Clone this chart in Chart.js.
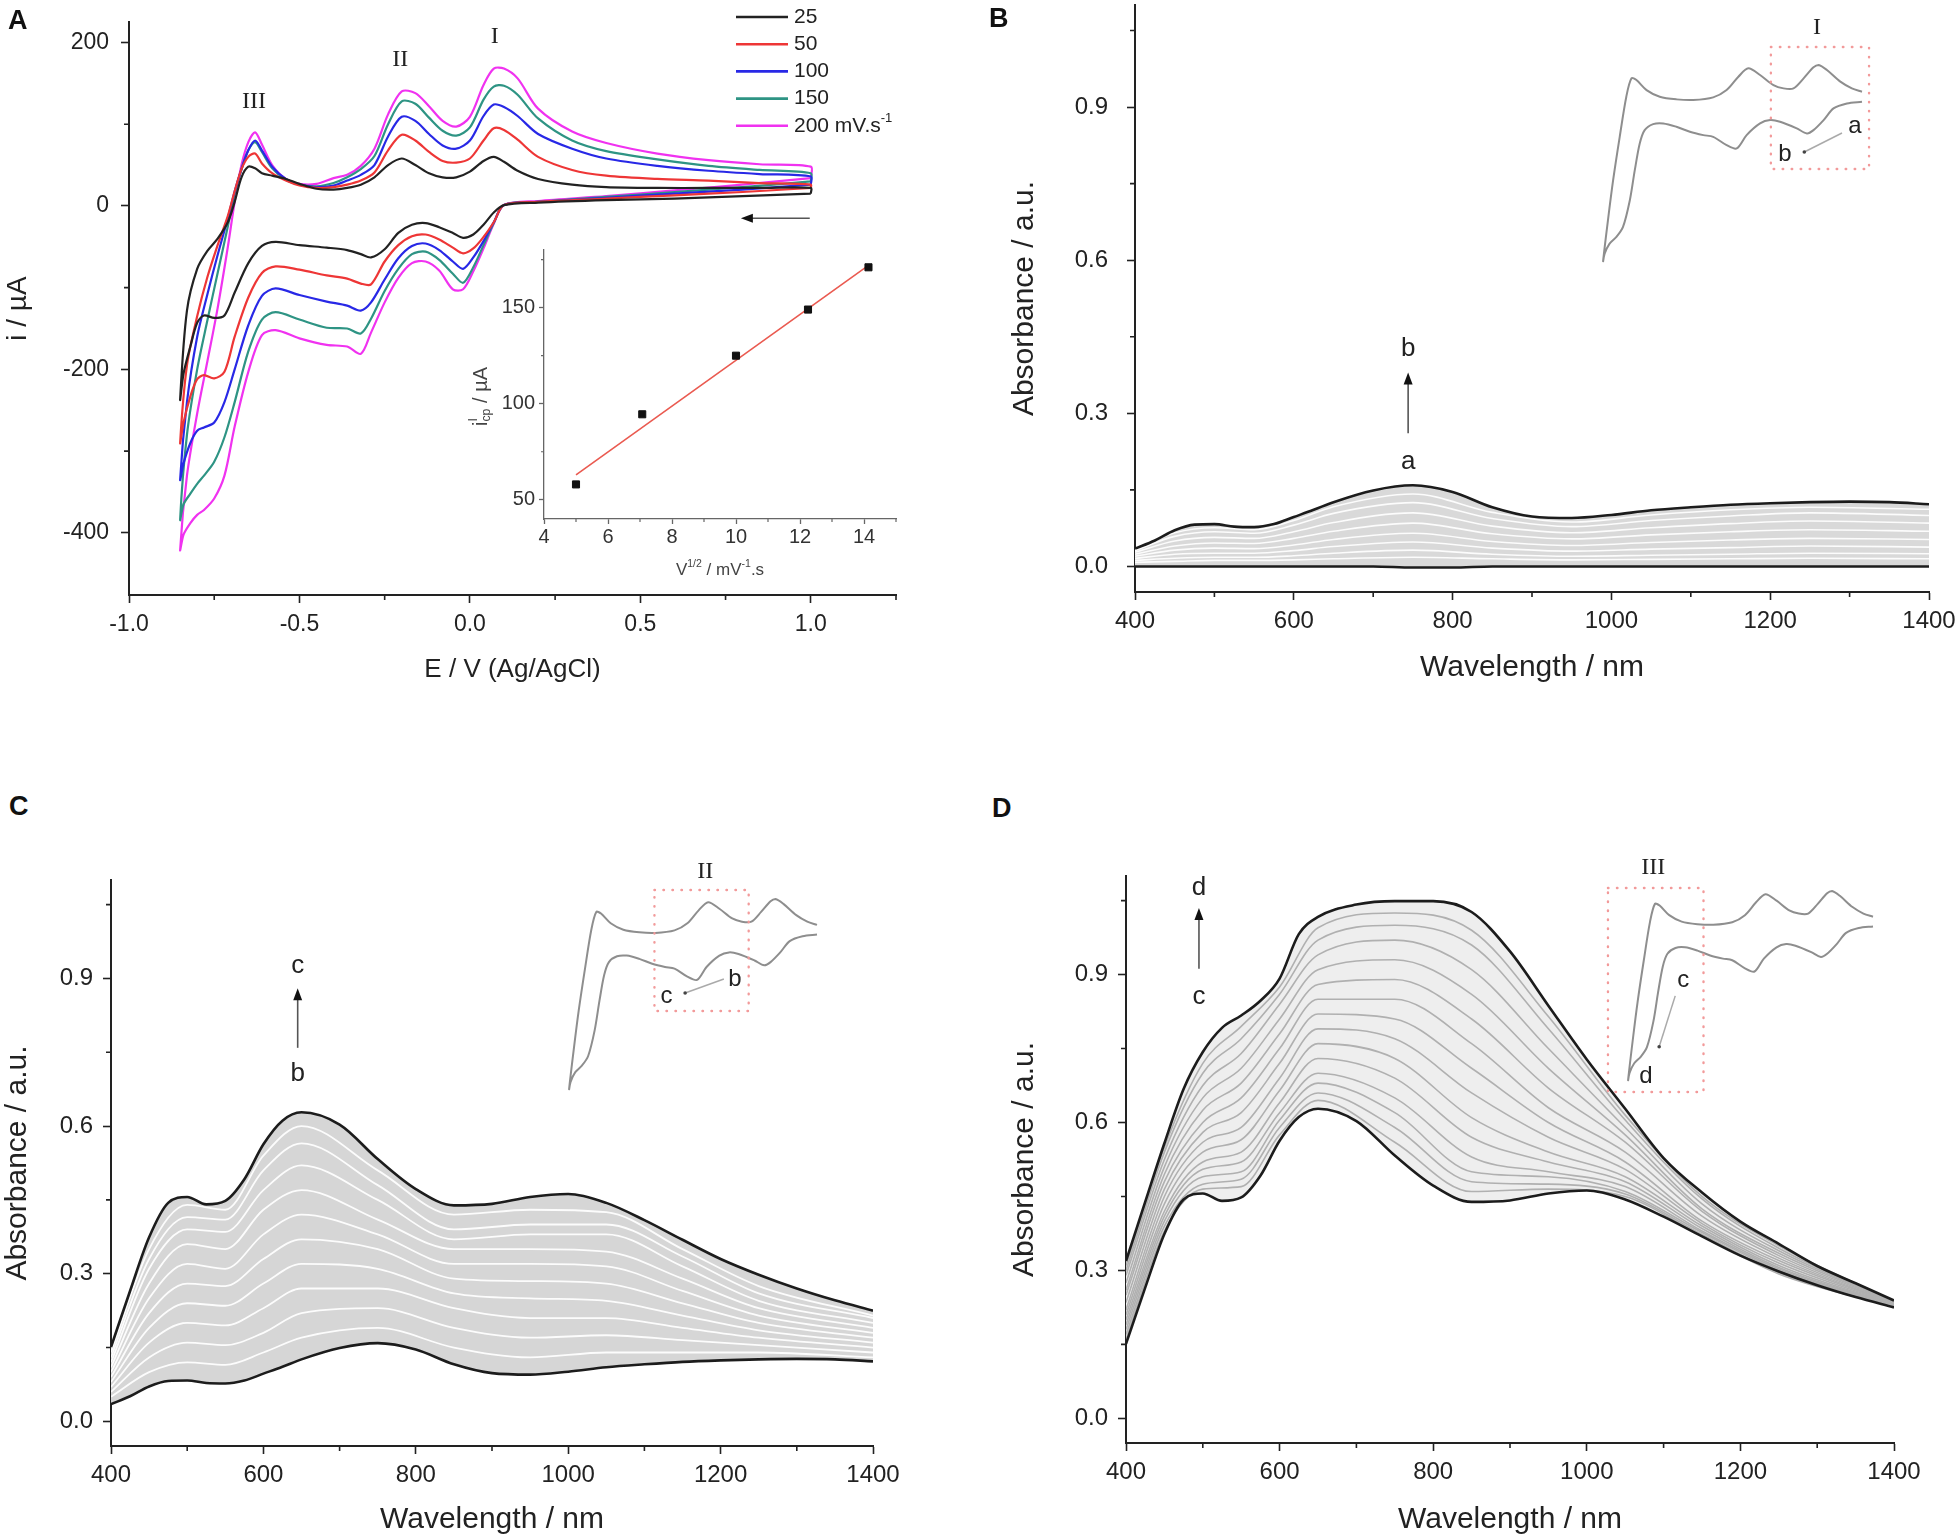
<!DOCTYPE html>
<html>
<head>
<meta charset="utf-8">
<title>CV and spectroelectrochemistry</title>
<script src="https://cdn.jsdelivr.net/npm/chart.js@4.4.1/dist/chart.umd.min.js"></script>
<style>
  html, body { margin: 0; padding: 0; background: #fff; overflow: hidden; }
  #page { position: relative; width: 1955px; height: 1540px; overflow: hidden; background: #fff; }
  #page canvas { position: absolute; }
  .tag { position: absolute; font: bold 27px "Liberation Sans", Arial, sans-serif; color: #111; }
</style>
</head>
<body>
<div id="page">
  <canvas id="cvMain" width="930" height="690" style="left:0px;top:0px"></canvas>
  <canvas id="cvInset" width="490" height="370" style="left:440px;top:230px"></canvas>
  <canvas id="specB" width="965" height="690" style="left:1000px;top:0px"></canvas>
  <canvas id="insetB" width="359" height="297" style="left:1553px;top:15px"></canvas>
  <canvas id="specC" width="920" height="680" style="left:0px;top:860px"></canvas>
  <canvas id="insetC" width="348" height="291" style="left:519px;top:849px"></canvas>
  <canvas id="specD" width="955" height="680" style="left:1000px;top:860px"></canvas>
  <canvas id="insetD" width="345" height="290" style="left:1578px;top:841px"></canvas>
  <div class="tag" style="left:8px;top:5px">A</div>
  <div class="tag" style="left:989px;top:3px">B</div>
  <div class="tag" style="left:9px;top:791px">C</div>
  <div class="tag" style="left:992px;top:793px">D</div>
</div>
<script>
// ---------- A: cyclic voltammograms, E (V vs Ag/AgCl) / i (µA) ----------
const scanRates = ["25", "50", "100", "150", "200"];

const eCathodic = [1.0, 0.8, 0.6, 0.4, 0.2, 0.1, 0.07, 0.04, 0.01, -0.02, -0.05, -0.09, -0.13, -0.17,
  -0.21, -0.25, -0.29, -0.32, -0.36, -0.42, -0.5, -0.57, -0.61, -0.65, -0.69, -0.72, -0.75, -0.78,
  -0.8, -0.82, -0.84, -0.85];
const iCath25 = [15, 12, 9, 7, 4, 1, -8, -23, -35, -39, -33, -26, -21, -23, -33, -53, -63, -59, -54,
  -51, -48, -44, -49, -70, -106, -134, -137, -134, -143, -172, -205, -237];
const iCath50 = [22, 17, 13, 9, 5, 1, -20, -38, -52, -58, -51, -41, -35, -37, -48, -68, -96, -95, -89,
  -85, -78, -74, -82, -112, -160, -203, -211, -207, -212, -233, -265, -290];
const iCath100 = [26, 20, 15, 10, 5, 1, -20, -43, -63, -77, -68, -54, -46, -49, -64, -90, -118, -128, -122,
  -117, -109, -101, -110, -146, -200, -240, -265, -271, -275, -290, -315, -335];
const iCath150 = [30, 23, 17, 11, 5, 1, -21, -48, -75, -94, -83, -66, -56, -59, -77, -104, -138, -156, -150,
  -149, -139, -130, -139, -178, -240, -283, -313, -330, -340, -352, -365, -384];
const iCath200 = [34, 26, 19, 12, 6, 1, -22, -52, -80, -102, -102, -79, -68, -70, -88, -118, -155, -181, -172,
  -170, -162, -152, -158, -203, -270, -330, -358, -372, -378, -388, -402, -421];

const eAnodic = [-0.85, -0.83, -0.8, -0.77, -0.74, -0.71, -0.69, -0.67, -0.65, -0.63, -0.61, -0.58, -0.54,
  -0.5, -0.45, -0.4, -0.36, -0.32, -0.28, -0.24, -0.2, -0.16, -0.12, -0.08, -0.04, 0.0, 0.04, 0.07, 0.1,
  0.14, 0.2, 0.3, 0.4, 0.55, 0.7, 0.85, 1.0];
const iAnod25 = [-237, -128, -77, -55, -40, -20, 5, 35, 48, 46, 40, 37, 33, 27, 21, 20, 22, 26, 35, 50,
  58, 50, 40, 35, 35, 42, 55, 60, 54, 43, 33, 26, 23, 22, 22, 22, 22];
const iAnod50 = [-290, -195, -135, -87, -48, -12, 18, 45, 60, 64, 52, 40, 31, 25, 22, 23, 26, 31, 41, 68,
  87, 80, 66, 55, 53, 58, 80, 95, 93, 81, 60, 44, 37, 33, 31, 28, 26];
const iAnod100 = [-335, -240, -160, -108, -60, -15, 18, 45, 68, 80, 68, 48, 33, 26, 23, 25, 31, 38, 50, 85,
  109, 104, 88, 74, 70, 80, 110, 124, 121, 110, 88, 70, 58, 49, 43, 39, 36];
const iAnod150 = [-384, -280, -200, -140, -82, -25, 15, 45, 68, 78, 66, 46, 32, 26, 24, 28, 35, 45, 61, 100,
  128, 125, 108, 92, 86, 96, 130, 146, 147, 136, 107, 80, 67, 57, 49, 44, 40];
const iAnod200 = [-421, -330, -254, -190, -125, -50, 5, 50, 78, 90, 75, 50, 33, 27, 27, 34, 38, 49, 70, 112,
  140, 138, 122, 104, 97, 109, 148, 168, 168, 156, 119, 91, 77, 64, 56, 51, 48];

// inset of A: peak I current against square root of scan rate
const sqrtRate = [5, 7.07, 10, 12.25, 14.14];
const peakCurrentI = [58, 94.5, 125, 149, 171];
const fitX = [5, 14.14];
const fitY = [63, 172];

// small CV sketch used in the insets of B, C and D
const sketchECath = [0.25, 0.186, 0.129, 0.087, 0.044, 0.016, -0.027, -0.098, -0.14, -0.183, -0.24, -0.282,
  -0.325, -0.382, -0.424, -0.481, -0.538, -0.594, -0.637, -0.673, -0.694, -0.715, -0.736, -0.765, -0.793,
  -0.822, -0.843, -0.85];
const sketchICath = [3.6, 1.0, -6.7, -24.6, -40, -45.1, -37.4, -27.2, -24.6, -29.7, -47.7, -68.2, -63.1,
  -50.3, -47.7, -42.6, -34.9, -29.7, -30.8, -40, -60.5, -101.5, -147.7, -188.7, -204.1, -214.3, -229.7, -242.6];
const sketchEAnod = [-0.85, -0.829, -0.807, -0.779, -0.751, -0.729, -0.708, -0.665, -0.609, -0.538, -0.467,
  -0.382, -0.325, -0.275, -0.233, -0.183, -0.126, -0.083, -0.041, 0.002, 0.044, 0.066, 0.101, 0.158, 0.207, 0.25];
const sketchIAnod = [-242.6, -178.5, -116.9, -50.3, 11.3, 39.5, 36.9, 21.5, 11.3, 7.2, 6.2, 10.3, 21.5, 42,
  54.9, 44.6, 29.2, 24.1, 24.1, 39.5, 56.4, 60, 52.3, 34.4, 24.1, 19];

// ---------- B, C, D: absorbance spectra ----------
const wl = [400, 425, 450, 475, 500, 525, 550, 575, 600, 625, 650, 700, 750, 800, 850, 900, 950, 1000,
  1050, 1100, 1150, 1200, 1250, 1300, 1350, 1400];
const specA = [0, 0, 0, 0, 0, 0, 0, 0, 0, 0, 0, 0, -0.002, -0.002, 0, 0, 0, 0, 0, 0, 0, 0, 0, 0, 0, 0];
const specB = [0.035, 0.051, 0.071, 0.082, 0.083, 0.078, 0.077, 0.083, 0.097, 0.111, 0.126, 0.149, 0.159,
  0.146, 0.116, 0.098, 0.095, 0.101, 0.110, 0.116, 0.121, 0.124, 0.126, 0.127, 0.126, 0.122];
const specC = [0.151, 0.265, 0.374, 0.444, 0.456, 0.441, 0.448, 0.492, 0.563, 0.611, 0.628, 0.603, 0.533,
  0.472, 0.439, 0.442, 0.456, 0.462, 0.444, 0.409, 0.369, 0.330, 0.298, 0.270, 0.246, 0.225];
const specD = [0.319, 0.439, 0.558, 0.668, 0.743, 0.792, 0.817, 0.847, 0.892, 0.982, 1.017, 1.042, 1.049,
  1.049, 1.027, 0.947, 0.837, 0.728, 0.628, 0.528, 0.458, 0.399, 0.354, 0.309, 0.274, 0.239];

// intermediate spectra recorded during each step
const wlCoarse = [400, 450, 500, 550, 600, 650, 750, 850, 950, 1050, 1150, 1250, 1400];
const stepsAB = [
  [0.008, 0.010, 0.012, 0.012, 0.013, 0.015, 0.018, 0.015, 0.013, 0.014, 0.015, 0.016, 0.015],
  [0.012, 0.016, 0.018, 0.018, 0.021, 0.026, 0.032, 0.024, 0.020, 0.022, 0.024, 0.026, 0.025],
  [0.016, 0.024, 0.026, 0.026, 0.031, 0.039, 0.048, 0.036, 0.030, 0.034, 0.037, 0.040, 0.038],
  [0.020, 0.032, 0.036, 0.035, 0.042, 0.053, 0.065, 0.049, 0.041, 0.047, 0.052, 0.055, 0.053],
  [0.024, 0.040, 0.046, 0.045, 0.055, 0.069, 0.085, 0.064, 0.054, 0.062, 0.068, 0.072, 0.069],
  [0.028, 0.050, 0.057, 0.055, 0.068, 0.086, 0.105, 0.079, 0.066, 0.076, 0.084, 0.089, 0.085],
  [0.031, 0.059, 0.068, 0.065, 0.081, 0.104, 0.125, 0.094, 0.078, 0.090, 0.099, 0.105, 0.100],
  [0.033, 0.066, 0.076, 0.072, 0.090, 0.117, 0.142, 0.106, 0.087, 0.101, 0.111, 0.116, 0.112]
];
const stepsBC = [
  [0.05, 0.10, 0.12, 0.115, 0.14, 0.17, 0.19, 0.15, 0.13, 0.14, 0.14, 0.14, 0.13],
  [0.06, 0.13, 0.16, 0.155, 0.18, 0.22, 0.23, 0.19, 0.17, 0.175, 0.165, 0.155, 0.14],
  [0.07, 0.16, 0.20, 0.195, 0.23, 0.27, 0.27, 0.23, 0.21, 0.21, 0.19, 0.17, 0.15],
  [0.08, 0.19, 0.24, 0.235, 0.28, 0.32, 0.31, 0.26, 0.25, 0.245, 0.215, 0.185, 0.16],
  [0.09, 0.22, 0.28, 0.275, 0.33, 0.37, 0.35, 0.29, 0.285, 0.28, 0.24, 0.20, 0.17],
  [0.10, 0.25, 0.32, 0.31, 0.38, 0.42, 0.38, 0.32, 0.32, 0.315, 0.265, 0.215, 0.18],
  [0.11, 0.28, 0.36, 0.35, 0.43, 0.47, 0.41, 0.35, 0.35, 0.345, 0.29, 0.23, 0.19],
  [0.12, 0.31, 0.39, 0.385, 0.47, 0.52, 0.45, 0.37, 0.38, 0.38, 0.315, 0.245, 0.20],
  [0.13, 0.33, 0.415, 0.41, 0.51, 0.565, 0.48, 0.39, 0.40, 0.40, 0.335, 0.26, 0.21],
  [0.14, 0.35, 0.44, 0.43, 0.54, 0.60, 0.51, 0.42, 0.43, 0.425, 0.35, 0.275, 0.215]
];
const stepsCD = [
  [0.16, 0.38, 0.465, 0.47, 0.575, 0.645, 0.56, 0.46, 0.465, 0.45, 0.37, 0.293, 0.226],
  [0.17, 0.39, 0.475, 0.485, 0.59, 0.66, 0.59, 0.48, 0.475, 0.455, 0.373, 0.296, 0.227],
  [0.18, 0.40, 0.49, 0.50, 0.605, 0.68, 0.62, 0.50, 0.49, 0.46, 0.377, 0.30, 0.228],
  [0.19, 0.41, 0.505, 0.52, 0.62, 0.70, 0.65, 0.53, 0.50, 0.47, 0.38, 0.303, 0.229],
  [0.20, 0.42, 0.52, 0.54, 0.64, 0.73, 0.69, 0.57, 0.52, 0.48, 0.385, 0.306, 0.23],
  [0.21, 0.435, 0.54, 0.565, 0.665, 0.76, 0.73, 0.61, 0.54, 0.49, 0.39, 0.31, 0.231],
  [0.22, 0.45, 0.56, 0.59, 0.69, 0.79, 0.77, 0.66, 0.57, 0.505, 0.395, 0.315, 0.232],
  [0.235, 0.465, 0.58, 0.62, 0.72, 0.82, 0.81, 0.71, 0.60, 0.52, 0.40, 0.32, 0.233],
  [0.25, 0.48, 0.60, 0.65, 0.75, 0.85, 0.85, 0.76, 0.63, 0.54, 0.41, 0.325, 0.234],
  [0.26, 0.495, 0.625, 0.68, 0.78, 0.88, 0.89, 0.81, 0.67, 0.56, 0.42, 0.33, 0.235],
  [0.275, 0.51, 0.65, 0.71, 0.81, 0.91, 0.93, 0.86, 0.71, 0.575, 0.425, 0.335, 0.236],
  [0.29, 0.525, 0.675, 0.74, 0.84, 0.94, 0.97, 0.91, 0.75, 0.59, 0.435, 0.34, 0.237],
  [0.30, 0.54, 0.70, 0.77, 0.86, 0.97, 1.0, 0.96, 0.79, 0.605, 0.445, 0.345, 0.238],
  [0.31, 0.55, 0.72, 0.795, 0.875, 0.995, 1.025, 0.99, 0.815, 0.615, 0.45, 0.35, 0.238]
];

// tick values
const eTicks = [-1.0, -0.5, 0.0, 0.5, 1.0];
const eMinor = [-0.75, -0.25, 0.25, 0.75, 1.25];
const iTicks = [-400, -200, 0, 200];
const iMinor = [-300, -100, 100];
const rateTicks = [4, 6, 8, 10, 12, 14];
const rateMinor = [5, 7, 9, 11, 13, 15];
const ipTicks = [50, 100, 150];
const ipMinor = [75, 125, 175];
const wlTicks = [400, 600, 800, 1000, 1200, 1400];
const wlMinor = [500, 700, 900, 1100, 1300];
const absTicks = [0.0, 0.3, 0.6, 0.9];
const absMinor = [0.15, 0.45, 0.75, 1.05];

// ---------- drawing ----------
const SANS = '"Liberation Sans", Arial, sans-serif';
const SERIF = '"Liberation Serif", "Times New Roman", serif';
Chart.defaults.font.family = SANS;
Chart.defaults.color = "#222";
Chart.defaults.animation = false;
Chart.defaults.responsive = false;
Chart.defaults.devicePixelRatio = 1;
Chart.defaults.plugins.legend.display = false;
Chart.defaults.plugins.tooltip.enabled = false;
Chart.defaults.elements.point.radius = 0;

const cvColors = ["#222222", "#ee3636", "#2828e6", "#2e9484", "#f032f0"];
const cathodic = [iCath25, iCath50, iCath100, iCath150, iCath200];
const anodic = [iAnod25, iAnod50, iAnod100, iAnod150, iAnod200];

const pts = (xs, ys) => xs.map((x, k) => ({ x: x, y: ys[k] }));

function axis(o) {
  return {
    type: "linear", min: o.min, max: o.max,
    afterBuildTicks: s => { s.ticks = o.ticks.map(v => ({ value: v })); },
    afterFit: s => {
      // fixed box sizes so the plot areas land where the figure has them
      if (s.isHorizontal()) { s.height = o.size; s.paddingLeft = 0; s.paddingRight = 0; }
      else { s.width = o.size; s.paddingTop = 0; s.paddingBottom = 0; }
    },
    ticks: { font: { size: o.fs }, color: o.tc || "#222", padding: o.pad, autoSkip: false, maxRotation: 0, callback: o.fmt },
    grid: { drawOnChartArea: false, drawTicks: true, tickLength: o.tl || 8, tickWidth: o.bw || 1.6, tickColor: o.col || "#222" },
    border: { display: true, color: o.col || "#222", width: o.bw || 2 },
    title: o.title ? { display: true, text: o.title, font: { size: o.tfs }, color: "#222", padding: o.tpad } : { display: false }
  };
}

const minorTicks = {
  id: "minorTicks",
  afterDraw(chart, args, o) {
    const { ctx, chartArea: a, scales } = chart;
    ctx.save();
    ctx.strokeStyle = o.color;
    ctx.lineWidth = o.width;
    ctx.beginPath();
    o.x.forEach(v => { const p = scales.x.getPixelForValue(v); ctx.moveTo(p, a.bottom); ctx.lineTo(p, a.bottom + o.len); });
    o.y.forEach(v => { const p = scales.y.getPixelForValue(v); ctx.moveTo(a.left, p); ctx.lineTo(a.left - o.len, p); });
    ctx.stroke();
    ctx.restore();
  }
};

function notes(draw) {
  return {
    id: "notes",
    afterDraw(chart) {
      const X = v => chart.scales.x.getPixelForValue(v);
      const Y = v => chart.scales.y.getPixelForValue(v);
      chart.ctx.save();
      draw(chart.ctx, X, Y, chart.chartArea);
      chart.ctx.restore();
    }
  };
}

// text with super/subscripts; mode "sup0" = superscript that does not advance
function rich(ctx, parts, x, y, size, align, color, family) {
  const fam = family || SANS;
  let w = 0;
  const list = parts.map(([t, m]) => {
    const s = m ? size * 0.62 : size;
    ctx.font = s + "px " + fam;
    const tw = ctx.measureText(t).width;
    if (m !== "sup0") w += tw;
    return { t, m, s, tw };
  });
  let cx = align === "center" ? x - w / 2 : align === "right" ? x - w : x;
  ctx.fillStyle = color || "#222";
  ctx.textAlign = "left";
  ctx.textBaseline = "middle";
  list.forEach(p => {
    ctx.font = p.s + "px " + fam;
    const dy = (p.m === "sup" || p.m === "sup0") ? -size * 0.36 : p.m === "sub" ? size * 0.3 : 0;
    ctx.fillText(p.t, cx, y + dy);
    if (p.m !== "sup0") cx += p.tw;
  });
}

function text(ctx, t, x, y, size, family, color) {
  ctx.font = size + "px " + (family || SANS);
  ctx.fillStyle = color || "#222";
  ctx.textAlign = "center";
  ctx.textBaseline = "middle";
  ctx.fillText(t, x, y);
}

function arrow(ctx, x0, y0, x1, y1) {
  const ang = Math.atan2(y1 - y0, x1 - x0), L = 12, W = 4.5;
  const c = Math.cos(ang), s = Math.sin(ang);
  ctx.strokeStyle = "#555";
  ctx.fillStyle = "#111";
  ctx.lineWidth = 1.6;
  ctx.beginPath();
  ctx.moveTo(x0, y0);
  ctx.lineTo(x1 - c * L * 0.8, y1 - s * L * 0.8);
  ctx.stroke();
  ctx.beginPath();
  ctx.moveTo(x1, y1);
  ctx.lineTo(x1 - c * L - s * W, y1 - s * L + c * W);
  ctx.lineTo(x1 - c * L + s * W, y1 - s * L - c * W);
  ctx.closePath();
  ctx.fill();
}

// ---- A main ----
new Chart(document.getElementById("cvMain"), {
  type: "scatter",
  data: {
    datasets: scanRates.map((r, k) => ({
      label: r,
      data: pts(eCathodic, cathodic[k]).concat(pts(eAnodic, anodic[k]).slice(1), [{ x: eCathodic[0], y: cathodic[k][0] }]),
      showLine: true, borderColor: cvColors[k], borderWidth: 2.2, pointRadius: 0, tension: 0.3, fill: false
    }))
  },
  options: {
    layout: { padding: { left: 0, top: 22, right: 34, bottom: 0 }, autoPadding: false },
    scales: {
      x: axis({ min: -1.0, max: 1.25, ticks: eTicks, size: 95, fs: 23, pad: 8, fmt: v => v.toFixed(1),
        title: "E / V (Ag/AgCl)", tfs: 26, tpad: { top: 0, bottom: 5 } }),
      y: axis({ min: -476, max: 225, ticks: iTicks, size: 129, fs: 23, pad: 12, fmt: v => String(v),
        title: "i / \u00b5A", tfs: 28, tpad: { top: 1, bottom: 0 } })
    },
    plugins: { minorTicks: { x: eMinor, y: iMinor, len: 5, color: "#222", width: 1.6 } }
  },
  plugins: [minorTicks, notes((ctx, X, Y, a) => {
    scanRates.forEach((r, k) => {
      const y = a.top - 5 + 27.2 * k;
      ctx.strokeStyle = cvColors[k];
      ctx.lineWidth = 2.6;
      ctx.beginPath();
      ctx.moveTo(a.right - 160, y);
      ctx.lineTo(a.right - 108, y);
      ctx.stroke();
      rich(ctx, k === 4 ? [[r + " mV.s", ""], ["-1", "sup"]] : [[r, ""]], a.right - 102, y, 21, "left");
    });
    arrow(ctx, X(0.997), Y(-15), X(0.795), Y(-15));
    text(ctx, "III", X(-0.633), Y(127), 24, SERIF);
    text(ctx, "II", X(-0.204), Y(179), 24, SERIF);
    text(ctx, "I", X(0.073), Y(207), 24, SERIF);
  })]
});

// ---- A inset ----
new Chart(document.getElementById("cvInset"), {
  type: "scatter",
  data: {
    datasets: [
      { data: pts(sqrtRate, peakCurrentI), pointStyle: "rect", pointRadius: 5, backgroundColor: "#111", borderColor: "#111", showLine: false },
      { data: pts(fitX, fitY), showLine: true, borderColor: "#ea5a50", borderWidth: 1.6, pointRadius: 0 }
    ]
  },
  options: {
    layout: { padding: { left: 0, top: 20, right: 34, bottom: 0 }, autoPadding: false },
    scales: {
      x: axis({ min: 4, max: 15, ticks: rateTicks, size: 81, fs: 20, pad: 1, tl: 5, col: "#666", bw: 1.3, tc: "#333", fmt: v => String(v) }),
      y: axis({ min: 40, max: 180, ticks: ipTicks, size: 104, fs: 20, pad: 4, tl: 5, col: "#666", bw: 1.3, tc: "#333", fmt: v => String(v) })
    },
    plugins: { minorTicks: { x: rateMinor, y: ipMinor, len: 3, color: "#666", width: 1.2 } }
  },
  plugins: [minorTicks, notes((ctx, X, Y, a) => {
    rich(ctx, [["V", ""], ["1/2", "sup"], [" / mV", ""], ["-1", "sup"], [".s", ""]], (a.left + a.right) / 2, a.bottom + 51, 17, "center", "#444");
    ctx.save();
    ctx.translate(a.left - 63, (a.top + a.bottom) / 2 + 12);
    ctx.rotate(-Math.PI / 2);
    rich(ctx, [["i", ""], ["I", "sup0"], ["cp", "sub"], [" / \u00b5A", ""]], 0, 0, 20, "center", "#444");
    ctx.restore();
  })]
});

// ---- inset CV sketches of B, C, D ----
function sketch(id, drawNotes) {
  return new Chart(document.getElementById(id), {
    type: "scatter",
    data: {
      datasets: [{
        data: pts(sketchECath, sketchICath).concat(pts(sketchEAnod, sketchIAnod).slice(1)),
        showLine: true, borderColor: "#8e8e8e", borderWidth: 2, pointRadius: 0, tension: 0.3, clip: false
      }]
    },
    options: {
      layout: { padding: 50, autoPadding: false },
      scales: {
        x: { type: "linear", display: false, min: -0.85, max: 0.25 },
        y: { type: "linear", display: false, min: -242.6, max: 60 }
      }
    },
    plugins: [notes(drawNotes)]
  });
}

function dottedBox(ctx, x0, y0, x1, y1) {
  ctx.save();
  ctx.strokeStyle = "#f29a9a";
  ctx.lineWidth = 2.4;
  ctx.lineCap = "round";
  ctx.setLineDash([0.5, 8.5]);
  ctx.strokeRect(x0, y0, x1 - x0, y1 - y0);
  ctx.restore();
}

function pointer(ctx, x0, y0, x1, y1) {
  ctx.strokeStyle = "#aaa";
  ctx.lineWidth = 1.5;
  ctx.beginPath();
  ctx.moveTo(x0, y0);
  ctx.lineTo(x1, y1);
  ctx.stroke();
  ctx.fillStyle = "#444";
  ctx.beginPath();
  ctx.arc(x0, y0, 1.8, 0, Math.PI * 2);
  ctx.fill();
}

sketch("insetB", (ctx, X, Y) => {
  dottedBox(ctx, X(-0.137), Y(87.6), X(0.280), Y(-99.7));
  text(ctx, "I", X(0.059), Y(116.8), 24, SERIF);
  pointer(ctx, X(0.005), Y(-73.6), X(0.165), Y(-44.5));
  text(ctx, "a", X(0.22), Y(-35), 24);
  text(ctx, "b", X(-0.077), Y(-78), 24);
});
sketch("insetC", (ctx, X, Y) => {
  dottedBox(ctx, X(-0.471), Y(74.3), X(-0.053), Y(-117.5));
  text(ctx, "II", X(-0.246), Y(104), 24, SERIF);
  pointer(ctx, X(-0.335), Y(-89), X(-0.163), Y(-66.8));
  text(ctx, "b", X(-0.114), Y(-68), 24);
  text(ctx, "c", X(-0.418), Y(-93.7), 24);
});
sketch("insetD", (ctx, X, Y) => {
  dottedBox(ctx, X(-0.94), Y(64.8), X(-0.511), Y(-260));
  text(ctx, "III", X(-0.737), Y(96.6), 24, SERIF);
  pointer(ctx, X(-0.71), Y(-188), X(-0.638), Y(-107));
  text(ctx, "c", X(-0.602), Y(-81.7), 24);
  text(ctx, "d", X(-0.769), Y(-236), 24);
});

// ---- spectra ----
function spectrum(id, low, high, steps, look, frame, drawNotes) {
  const ds = [
    { data: pts(wl, high), borderColor: "#1c1c1c", borderWidth: 2.6 },
    { data: pts(wl, low), borderColor: "#1c1c1c", borderWidth: 2.6 }
  ];
  steps.forEach(s => ds.push({ data: pts(wlCoarse, s), borderColor: look.line, borderWidth: look.lw }));
  ds.push({ data: pts(wl, high), borderColor: "rgba(0,0,0,0)", borderWidth: 0, fill: { target: 1 }, backgroundColor: look.fill });
  ds.forEach(d => {
    d.pointRadius = 0;
    d.cubicInterpolationMode = "monotone";
    if (d.fill === undefined) d.fill = false;
  });
  return new Chart(document.getElementById(id), {
    type: "line",
    data: { datasets: ds },
    options: {
      layout: { padding: { left: 0, top: frame.top, right: frame.right, bottom: 0 }, autoPadding: false },
      scales: {
        x: axis({ min: 400, max: 1400, ticks: wlTicks, size: frame.xh, fs: 24, pad: frame.xpad, fmt: v => String(v),
          title: "Wavelength / nm", tfs: 30, tpad: { top: 0, bottom: frame.xtp } }),
        y: axis({ min: -0.05, max: 1.1, ticks: absTicks, size: frame.yw, fs: 24, pad: frame.ypad, fmt: v => v.toFixed(1),
          title: "Absorbance / a.u.", tfs: 30, tpad: { top: frame.ytp, bottom: 0 } })
      },
      plugins: { minorTicks: { x: wlMinor, y: absMinor, len: 5, color: "#222", width: 1.6 } }
    },
    plugins: [minorTicks, notes(drawNotes)]
  });
}

spectrum("specB", specA, specB, stepsAB,
  { fill: "#d9d9d9", line: "rgba(255,255,255,0.9)", lw: 1.6 },
  { top: 5, right: 36, xh: 98, yw: 135, xpad: 7, ypad: 19, xtp: 4, ytp: 7 },
  (ctx, X, Y) => {
    arrow(ctx, X(744), Y(0.261), X(744), Y(0.380));
    text(ctx, "b", X(744), Y(0.427), 26);
    text(ctx, "a", X(744), Y(0.206), 26);
  });

spectrum("specC", specB, specC, stepsBC,
  { fill: "#d6d6d6", line: "rgba(255,255,255,0.92)", lw: 1.8 },
  { top: 20, right: 47, xh: 94, yw: 111, xpad: 7, ypad: 10, xtp: 2, ytp: 0 },
  (ctx, X, Y) => {
    arrow(ctx, X(645), Y(0.759), X(645), Y(0.88));
    text(ctx, "c", X(645), Y(0.925), 26);
    text(ctx, "b", X(645), Y(0.706), 26);
  });

spectrum("specD", specC, specD, stepsCD,
  { fill: "#eeeeee", line: "#b0b0b0", lw: 1.6 },
  { top: 16, right: 61, xh: 97, yw: 126, xpad: 7, ypad: 10, xtp: 2, ytp: 7 },
  (ctx, X, Y) => {
    arrow(ctx, X(495), Y(0.912), X(495), Y(1.035));
    text(ctx, "d", X(495), Y(1.077), 26);
    text(ctx, "c", X(495), Y(0.855), 26);
  });
</script>
</body>
</html>
